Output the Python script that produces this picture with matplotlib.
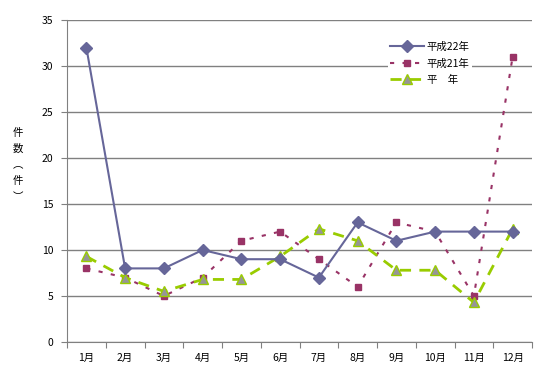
import matplotlib
matplotlib.use("Agg")
import matplotlib.pyplot as plt
import numpy as np

plt.rcParams['font.family'] = ['Noto Sans CJK JP', 'DejaVu Sans']

# datos
meses = ["1月", "2月", "3月", "4月", "5月", "6月", "7月", "8月", "9月", "10月", "11月", "12月"]
h22 = [32, 8, 8, 10, 9, 9, 7, 13, 11, 12, 12, 12]
h21 = [8, 7, 5, 7, 11, 12, 9, 6, 13, 12, 5, 31]
heinen = [9.3, 7, 5.5, 6.8, 6.8, 9.3, 12.3, 11, 7.8, 7.8, 4.3, 12.3]

fig = plt.figure(figsize=(5.47, 3.84), dpi=100)
ax = fig.add_axes([67/547, 1-342/384, (532-67)/547, (342-20)/384])

x = np.arange(len(meses))
ax.plot(x, h22, color="#666699", lw=1.5, marker="D", ms=6,
        markerfacecolor="#666699", markeredgecolor="#666699", label="平成22年", zorder=4)
ax.plot(x, h21, color="#993366", lw=1.5, ls=(0, (2, 4)), marker="s", ms=5,
        markerfacecolor="#993366", markeredgecolor="#993366", label="平成21年", zorder=3)
ax.plot(x, heinen, color="#99CC00", lw=2, ls=(0, (4, 3)), marker="^", ms=7,
        markerfacecolor="#969696", markeredgecolor="#99CC00", label="平　年", zorder=3)

ax.set_xlim(-0.5, 11.5)
ax.set_ylim(0, 35)
ax.set_yticks(range(0, 36, 5))
ax.yaxis.grid(True, color="#808080", lw=1)
ax.set_axisbelow(True)

ax.set_xticks(np.arange(-0.5, 12, 1))
ax.set_xticklabels([])
ax.set_xticks(x, minor=True)
ax.set_xticklabels(meses, minor=True)
ax.tick_params(axis="x", which="minor", length=0, pad=8, labelsize=7.5)
ax.tick_params(axis="x", which="major", length=4, color="#808080")
ax.tick_params(axis="y", length=4, color="#808080", labelsize=7.5, pad=6)

for s in ["top", "right"]:
    ax.spines[s].set_visible(False)
for s in ["left", "bottom"]:
    ax.spines[s].set_color("#808080")

fig.text(18/547, 1-165/384, "件\n数\n︵\n件\n︶", ha="center", va="center",
         fontsize=7.5, linespacing=1.75)

leg = ax.legend(loc="upper left", bbox_to_anchor=(0.68, 0.955), frameon=True,
                fontsize=7.5, handlelength=3.2, labelspacing=0.6,
                borderpad=0.2, handletextpad=0.3)
leg.get_frame().set_edgecolor("none")
leg.get_frame().set_facecolor("white")
leg.get_frame().set_alpha(1)
leg.get_frame().set_boxstyle("square", pad=0)

fig.savefig("out.png", dpi=100)
